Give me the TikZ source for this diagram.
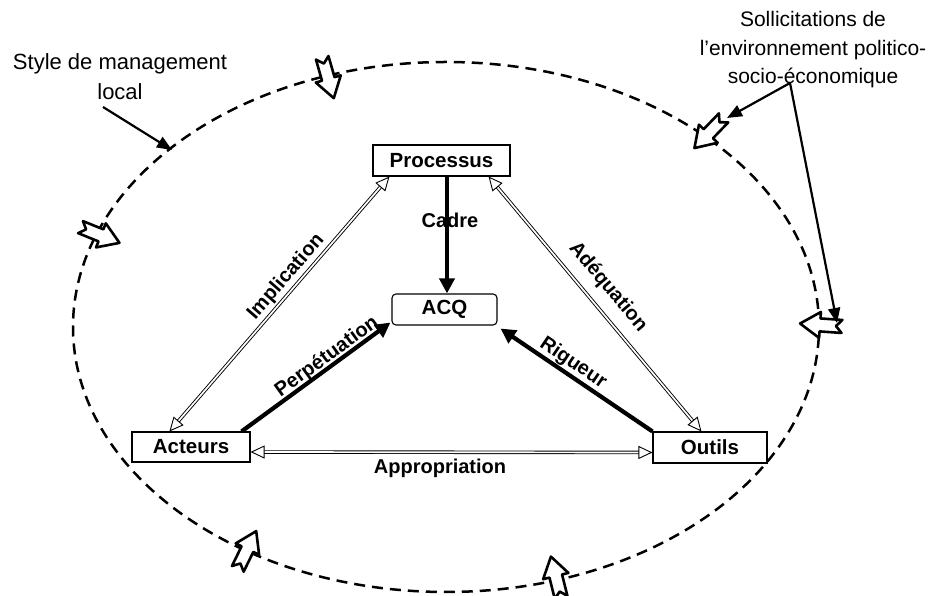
\documentclass[tikz,border=0pt]{standalone}
\usepackage{fontspec}
\setmainfont{Liberation Sans}
\usetikzlibrary{arrows.meta,calc}
\begin{document}
\begin{tikzpicture}[x=1pt,y=1pt,
  box/.style={draw, line width=1.1pt, inner sep=0pt, font=\fontsize{20.5}{24}\selectfont\bfseries},
  lbl/.style={font=\fontsize{20}{24}\selectfont\bfseries, inner sep=1pt},
  plain/.style={font=\fontsize{22}{30}\selectfont, align=center, inner sep=0pt},
  strong/.style={line width=4.2pt, -{Triangle[length=15pt,width=15pt]}},
  dbl/.style={double, double distance=1.7pt, line width=0.9pt},
  opentip/.style={-{Triangle[length=14pt,width=13pt,fill=white,line width=0.9pt]}},
  orbit/.style={dash pattern=on 11pt off 7pt, line width=2.5pt},
  ptr/.style={line width=2.2pt, -{Triangle[length=15pt,width=12pt]}},
  blockarrow/.pic={\draw[line width=2.6pt, fill=white, line join=round]
     (-21,6.5) -- (1,6.5) -- (1,13) -- (21,0) -- (1,-13) -- (1,-6.5) -- (-21,-6.5) -- (-15,0) -- cycle;}
]
\useasboundingbox (0,0) rectangle (933,596);

% outer dashed orbit
\draw[orbit] (446,269) ellipse [x radius=373pt, y radius=265pt];

% block arrows on the orbit
\pic[rotate=-74] at (328,518) {blockarrow};
\pic[rotate=-22] at (100,361) {blockarrow};
\pic[rotate=64] at (247,46) {blockarrow};
\pic[rotate=104] at (556,19) {blockarrow};
\pic[rotate=176] at (821,271) {blockarrow};
\pic[rotate=226] at (709,463) {blockarrow};

% boxes
\node[box, minimum width=137pt, minimum height=31pt] (P) at (441.5,435.5) {Processus};
\node[box, rounded corners=4pt, minimum width=105pt, minimum height=31pt] (Q) at (444.5,286.5) {ACQ};
\node[box, minimum width=118pt, minimum height=30pt] (Ac) at (191,149) {Acteurs};
\node[box, minimum width=114pt, minimum height=31pt] (O) at (710,148.5) {Outils};

% thick arrows
\draw[strong] ([xshift=5.5pt]P.south) -- ([xshift=2.5pt]Q.north);
\draw[strong] ([xshift=-9pt]Ac.north east) -- ([xshift=-1pt,yshift=3pt]Q.south west);
\draw[strong] (O.north west) -- ([xshift=3pt,yshift=-3pt]Q.south east);

% double (hollow) arrows
\coordinate (i1) at ([xshift=17pt]P.south west);
\coordinate (i2) at ([xshift=38pt]Ac.north west);
\coordinate (a1) at ([xshift=-22pt]P.south east);
\coordinate (a2) at ([xshift=49pt]O.north west);
\coordinate (p1) at ([yshift=-5pt]Ac.east);
\coordinate (p2) at ([yshift=-5pt]O.west);
\foreach \s/\e in {i1/i2, a1/a2, p1/p2}{
  \draw[dbl, shorten <=12pt, shorten >=12pt] (\s) -- (\e);
  \draw[opentip] ($(\s)!14pt!(\e)$) -- (\s);
  \draw[opentip] ($(\e)!14pt!(\s)$) -- (\e);
}

% connector labels
\node[lbl] (lc) at (450,376) {Cadre};
\node[lbl, rotate=49] (li) at (286,319) {Implication};
\node[lbl, rotate=36] (lp) at (327,239) {Perpétuation};
\node[lbl, rotate=-34] (lr) at (573,233) {Rigueur};
\node[lbl, rotate=-50] (la) at (608,309) {Adéquation};
\node[lbl] (lap) at (440,128) {Appropriation};

% outside labels
\node[plain] (sm) at (120,519) {Style de management\\local};
\coordinate (smS) at (103,489);
\coordinate (smE) at (172,446);
\draw[ptr] (smS) -- (smE);

\node[plain, font=\fontsize{21}{28.5}\selectfont] (sol) at (813,546) {Sollicitations de\\l'environnement politico-\\socio-économique};
\coordinate (solS) at (790,513);
\coordinate (solE1) at (727,478);
\coordinate (solE2) at (837,273);
\draw[ptr] (solS) -- (solE1);
\draw[ptr] (solS) -- (solE2);
\end{tikzpicture}
\end{document}
